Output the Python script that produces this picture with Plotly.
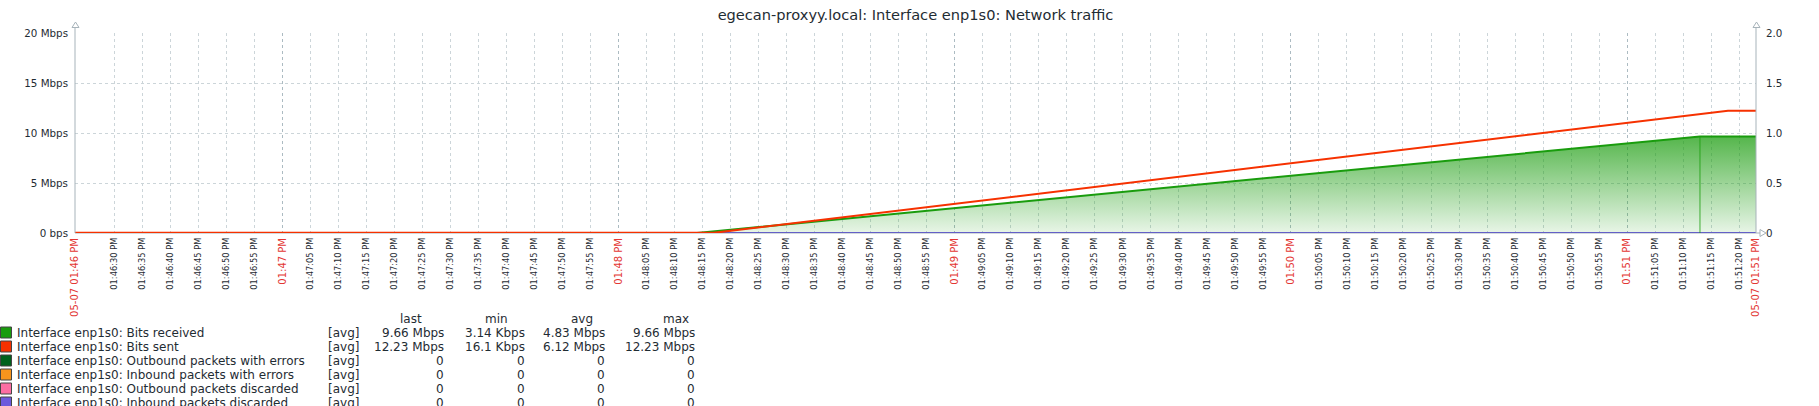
import plotly.graph_objects as go
import pandas as pd

# ---------------- figure geometry ----------------
W, H = 1819, 406
ML, MR, MT, MB = 75, 63, 33, 173
PW = W - ML - MR
PH = H - MT - MB

# ---------------- data ----------------
DAY = "2024-05-07 "
range_start = "13:46:23"
range_end = "13:51:23"

rx_times = ["13:46:23", "13:48:14", "13:51:13", "13:51:23"]
rx_mbps = [0.00314, 0.00314, 9.66, 9.66]

tx_times = ["13:46:23", "13:48:17", "13:51:18", "13:51:23"]
tx_mbps = [0.0161, 0.0161, 12.23, 12.23]

zero_times = ["13:46:23", "13:51:23"]
zero_vals = [0, 0]

series_names = [
    "Interface enp1s0: Bits received",
    "Interface enp1s0: Bits sent",
    "Interface enp1s0: Outbound packets with errors",
    "Interface enp1s0: Inbound packets with errors",
    "Interface enp1s0: Outbound packets discarded",
    "Interface enp1s0: Inbound packets discarded",
]
series_colors = ["#199C0D", "#F63100", "#00611C", "#F7941D", "#FC6EA3", "#6C59DC"]
stat_func = ["[avg]"] * 6
stat_last = ["9.66 Mbps", "12.23 Mbps", "0", "0", "0", "0"]
stat_min = ["3.14 Kbps", "16.1 Kbps", "0", "0", "0", "0"]
stat_avg = ["4.83 Mbps", "6.12 Mbps", "0", "0", "0", "0"]
stat_max = ["9.66 Mbps", "12.23 Mbps", "0", "0", "0", "0"]
stat_headers = ["last", "min", "avg", "max"]

y_left_vals = [0, 5, 10, 15, 20]
y_left_text = ["0 bps", "5 Mbps", "10 Mbps", "15 Mbps", "20 Mbps"]
y_right_vals = [0, 0.5, 1.0, 1.5, 2.0]
y_right_text = ["0", "0.5", "1.0", "1.5", "2.0"]

major_times = ["13:46:23", "13:47:00", "13:48:00", "13:49:00", "13:50:00", "13:51:00", "13:51:23"]
major_text = ["05-07 01:46 PM", "01:47 PM", "01:48 PM", "01:49 PM", "01:50 PM", "01:51 PM", "05-07 01:51 PM"]

minor_all = pd.date_range(DAY + "13:46:30", DAY + "13:51:20", freq="5s")
minor_ticks = [t for t in minor_all if t.second != 0]
minor_vals = [t.strftime("%Y-%m-%d %H:%M:%S") for t in minor_ticks]
minor_text = [t.strftime("%I:%M:%S %p") for t in minor_ticks]

TITLE = "egecan-proxyy.local: Interface enp1s0: Network traffic"

# ---------------- style ----------------
FONT = "DejaVu Sans"
TEXT = "#1F2C33"
RED = "#E33734"
GRID = "#CCD5D9"
MAINGRID = "#ACBBC2"
AXIS = "#A7B3BA"
LEG_SIZE = 12


def d(ts):
    return DAY + ts


def px_x(px):
    return (px - ML) / PW


def px_y(py):
    return (H - MB - py) / PH


xrange_ = [d(range_start), d(range_end)]

fig = go.Figure()

# packet series (right axis = base y axis), all zero -> drawn underneath
for i in range(2, 6):
    fig.add_trace(go.Scatter(
        x=[d(t) for t in zero_times], y=zero_vals, mode="lines",
        line=dict(color=series_colors[i], width=2),
        xaxis="x", yaxis="y", hoverinfo="skip", showlegend=False,
    ))

# Bits received (gradient area) on left axis (overlay y2)
fig.add_trace(go.Scatter(
    x=[d(t) for t in rx_times], y=rx_mbps, mode="lines",
    line=dict(color=series_colors[0], width=2),
    fill="tozeroy",
    fillgradient=dict(type="vertical",
                      colorscale=[[0, "rgba(25,156,13,0.10)"], [1, "rgba(25,156,13,0.74)"]],
                      start=0, stop=max(rx_mbps)),
    xaxis="x2", yaxis="y2", hoverinfo="skip", showlegend=False,
))
# vertical edge at last received sample
fig.add_trace(go.Scatter(
    x=[d(rx_times[2]), d(rx_times[2])], y=[0, rx_mbps[2]], mode="lines",
    line=dict(color="rgba(25,156,13,0.8)", width=1),
    xaxis="x2", yaxis="y2", hoverinfo="skip", showlegend=False,
))
# Bits sent
fig.add_trace(go.Scatter(
    x=[d(t) for t in tx_times], y=tx_mbps, mode="lines",
    line=dict(color=series_colors[1], width=2),
    xaxis="x2", yaxis="y2", hoverinfo="skip", showlegend=False,
))

# ---------------- layout ----------------
fig.update_layout(
    template="none",
    width=W, height=H,
    margin=dict(l=ML, r=MR, t=MT, b=MB, autoexpand=False),
    paper_bgcolor="white", plot_bgcolor="white",
    font=dict(family=FONT, color=TEXT, size=10),
    showlegend=False,
    title=dict(text=TITLE, x=0.5, xref="paper", xanchor="center",
               y=1 - 14.5 / H, yref="container", yanchor="middle",
               font=dict(size=14.6, color=TEXT, family=FONT)),
    xaxis=dict(
        type="date", range=xrange_, tickmode="array",
        tickvals=minor_vals, ticktext=minor_text, tickangle=-90,
        tickfont=dict(size=8.3, color=TEXT, family=FONT),
        showgrid=True, gridcolor=GRID, griddash="3px,3px", gridwidth=1,
        zeroline=False, showline=False, ticks="", ticklabelstandoff=2,
        automargin=False, fixedrange=True,
    ),
    xaxis2=dict(
        type="date", range=xrange_, overlaying="x", anchor="y", side="bottom",
        tickmode="array", tickvals=[d(t) for t in major_times], ticktext=major_text,
        tickangle=-90, tickfont=dict(size=10, color=RED, family=FONT),
        showgrid=True, gridcolor=MAINGRID, griddash="3px,3px", gridwidth=1,
        zeroline=False, showline=False, ticks="", ticklabelstandoff=2,
        automargin=False, fixedrange=True,
    ),
    yaxis=dict(
        range=[0, 2], side="right", anchor="x",
        tickmode="array", tickvals=y_right_vals, ticktext=y_right_text,
        tickfont=dict(size=10.3, color=TEXT, family=FONT),
        showgrid=False, zeroline=False, showline=False, ticks="", ticklabelstandoff=9,
        automargin=False, fixedrange=True,
    ),
    yaxis2=dict(
        range=[0, 20], overlaying="y", side="left", anchor="x",
        tickmode="array", tickvals=y_left_vals, ticktext=y_left_text,
        tickfont=dict(size=10.3, color=TEXT, family=FONT),
        showgrid=True, gridcolor=GRID, griddash="3px,3px", gridwidth=1,
        zeroline=False, showline=False, ticks="", ticklabelstandoff=6,
        automargin=False, fixedrange=True,
    ),
)

# ---------------- axis lines and arrows ----------------
shapes = []
axis_line = dict(color=AXIS, width=1)
shapes.append(dict(type="line", xref="paper", yref="paper",
                   x0=px_x(75), x1=px_x(75), y0=px_y(233), y1=px_y(27), line=axis_line))
shapes.append(dict(type="line", xref="paper", yref="paper",
                   x0=px_x(1756), x1=px_x(1756), y0=px_y(233), y1=px_y(27), line=axis_line))
shapes.append(dict(type="line", xref="paper", yref="paper", layer="below",
                   x0=px_x(75), x1=px_x(1760), y0=px_y(233), y1=px_y(233), line=axis_line))


def tri_up(cx, top):
    return (f"M {px_x(cx)},{px_y(top)} L {px_x(cx - 3.5)},{px_y(top + 5.5)} "
            f"L {px_x(cx + 3.5)},{px_y(top + 5.5)} Z")


def tri_right(left, cy):
    return (f"M {px_x(left + 6)},{px_y(cy)} L {px_x(left)},{px_y(cy - 3.5)} "
            f"L {px_x(left)},{px_y(cy + 3.5)} Z")


for p in [tri_up(75.5, 22), tri_up(1756.5, 22), tri_right(1760, 233)]:
    shapes.append(dict(type="path", xref="paper", yref="paper", path=p,
                       fillcolor="white", line=dict(color=AXIS, width=1)))

# ---------------- custom legend table ----------------
annotations = []
row_y0 = 332.5
row_dy = 14
header_y = 318.5
col_right = [445.7, 526.7, 607, 697]
col_head = [411, 497, 582, 676]
for hx, txt in zip(col_head, stat_headers):
    annotations.append(dict(xref="paper", yref="paper", x=px_x(hx), y=px_y(header_y),
                            text=txt, showarrow=False, xanchor="center", yanchor="middle",
                            font=dict(size=LEG_SIZE, color=TEXT, family=FONT)))

for i, name in enumerate(series_names):
    cy = row_y0 + i * row_dy
    shapes.append(dict(type="rect", xref="paper", yref="paper",
                       x0=px_x(0.5), x1=px_x(11.5), y0=px_y(cy - 5.5), y1=px_y(cy + 5.5),
                       fillcolor=series_colors[i], line=dict(color="#444444", width=1)))
    annotations.append(dict(xref="paper", yref="paper", x=px_x(15), y=px_y(cy),
                            text=name, showarrow=False, xanchor="left", yanchor="middle",
                            font=dict(size=LEG_SIZE, color=TEXT, family=FONT)))
    annotations.append(dict(xref="paper", yref="paper", x=px_x(325.5), y=px_y(cy),
                            text=stat_func[i], showarrow=False, xanchor="left", yanchor="middle",
                            font=dict(size=LEG_SIZE, color=TEXT, family=FONT)))
    for cx, vals in zip(col_right, [stat_last, stat_min, stat_avg, stat_max]):
        annotations.append(dict(xref="paper", yref="paper", x=px_x(cx), y=px_y(cy),
                                text=vals[i], showarrow=False, xanchor="right", yanchor="middle",
                                font=dict(size=LEG_SIZE, color=TEXT, family=FONT)))

fig.update_layout(shapes=shapes, annotations=annotations)

fig.write_html("out.html", config={"displayModeBar": False, "staticPlot": True},
               post_script="document.body.style.margin='0';document.body.style.overflow='hidden';")
